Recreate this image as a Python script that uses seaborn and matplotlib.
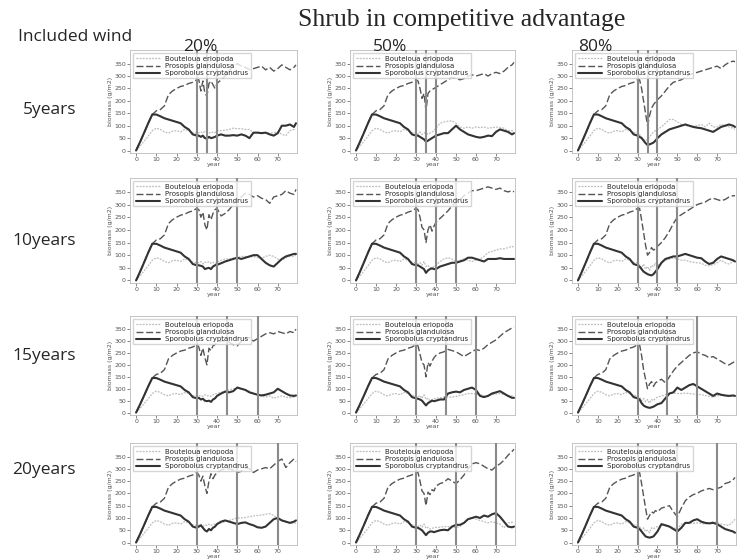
import numpy as np
import pandas as pd
import matplotlib
matplotlib.use("Agg")
import matplotlib.pyplot as plt
import seaborn as sns

# years sampled from the pictures
years_base = list(range(0, 31, 2))
years_tail = list(range(31, 41)) + list(range(42, 79, 2)) + [79]
years = years_base + years_tail

# shared history before the first wind event (year 0-30)
bout_base = [0, 18, 38, 58, 80, 90, 85, 75, 70, 78, 80, 75, 85, 80, 72, 70]
pros_base = [0, 35, 72, 110, 145, 160, 165, 180, 225, 240, 250, 258, 262, 270, 275, 285]
spor_base = [0, 35, 72, 110, 145, 145, 138, 130, 125, 120, 115, 110, 95, 85, 65, 60]

# 5 years
bout_5y_20 = [72, 75, 70, 78, 75, 72, 70, 75, 72, 80, 80, 82, 85, 90, 88, 88, 85, 85, 70, 72, 70, 72, 70, 72, 75, 65, 60, 80, 85, 85]
pros_5y_20 = [285, 240, 280, 230, 220, 270, 280, 265, 250, 270, 285, 300, 320, 340, 350, 340, 335, 325, 330, 335, 340, 325, 335, 320, 330, 345, 335, 325, 335, 345]
spor_5y_20 = [60, 55, 60, 50, 48, 55, 50, 52, 55, 60, 65, 60, 60, 62, 60, 65, 60, 50, 72, 72, 70, 72, 65, 60, 70, 100, 100, 105, 95, 110]
bout_5y_50 = [65, 75, 65, 70, 72, 65, 70, 75, 80, 90, 110, 115, 118, 120, 110, 95, 90, 95, 90, 95, 92, 95, 90, 92, 95, 92, 90, 80, 80, 78]
pros_5y_50 = [280, 250, 210, 230, 160, 230, 240, 245, 250, 255, 265, 275, 285, 295, 290, 285, 290, 300, 305, 300, 305, 310, 300, 310, 315, 310, 320, 335, 345, 355]
spor_5y_50 = [60, 55, 50, 45, 35, 40, 45, 50, 55, 60, 65, 70, 70, 85, 100, 85, 75, 65, 60, 55, 52, 55, 60, 58, 75, 85, 80, 75, 65, 70]
bout_5y_80 = [65, 55, 45, 40, 45, 55, 65, 75, 80, 85, 95, 110, 125, 125, 115, 105, 100, 100, 98, 100, 105, 95, 110, 95, 95, 105, 100, 95, 90, 85]
pros_5y_80 = [285, 250, 200, 150, 100, 140, 170, 185, 195, 205, 220, 240, 260, 275, 280, 285, 295, 305, 310, 315, 320, 325, 330, 335, 340, 330, 345, 355, 360, 358]
spor_5y_80 = [55, 50, 40, 30, 22, 25, 28, 32, 40, 50, 65, 75, 85, 90, 95, 100, 105, 100, 95, 92, 90, 85, 80, 75, 85, 95, 100, 105, 100, 95]

# 10 years
bout_10y_20 = [70, 75, 65, 72, 70, 75, 68, 72, 65, 72, 80, 85, 85, 88, 90, 95, 95, 92, 95, 90, 88, 95, 100, 95, 85, 80, 90, 95, 95, 100]
pros_10y_20 = [280, 250, 270, 220, 200, 260, 240, 265, 280, 285, 255, 265, 280, 300, 325, 330, 345, 340, 330, 335, 325, 320, 305, 330, 335, 340, 355, 345, 340, 360]
spor_10y_20 = [60, 58, 55, 45, 48, 50, 45, 55, 60, 62, 68, 75, 80, 85, 90, 85, 90, 95, 100, 100, 85, 70, 60, 55, 70, 85, 95, 100, 105, 105]
bout_10y_50 = [65, 70, 60, 75, 55, 60, 50, 50, 55, 60, 75, 85, 90, 85, 75, 80, 85, 80, 75, 80, 85, 95, 110, 115, 120, 125, 125, 130, 135, 130]
pros_10y_50 = [280, 250, 210, 200, 150, 200, 220, 195, 215, 230, 245, 260, 275, 295, 310, 320, 335, 345, 355, 355, 360, 365, 370, 365, 360, 365, 355, 350, 355, 350]
spor_10y_50 = [60, 55, 50, 45, 30, 40, 45, 48, 45, 45, 55, 60, 65, 70, 70, 75, 80, 90, 90, 85, 80, 75, 85, 85, 85, 88, 85, 85, 85, 85]
bout_10y_80 = [60, 50, 65, 45, 55, 40, 60, 55, 70, 60, 70, 80, 85, 88, 85, 80, 80, 75, 72, 70, 68, 60, 58, 62, 70, 80, 70, 65, 75, 75]
pros_10y_80 = [285, 240, 190, 140, 100, 110, 130, 120, 125, 135, 150, 170, 195, 225, 250, 260, 270, 280, 290, 300, 305, 310, 320, 325, 320, 315, 320, 330, 335, 335]
spor_10y_80 = [55, 45, 35, 30, 25, 22, 20, 25, 35, 45, 70, 85, 90, 95, 95, 100, 105, 100, 95, 90, 88, 75, 65, 70, 85, 95, 90, 85, 80, 75]

# 15 years
bout_15y_20 = [70, 72, 68, 75, 70, 72, 68, 75, 78, 80, 85, 90, 95, 100, 105, 100, 95, 90, 80, 75, 70, 65, 70, 60, 65, 70, 65, 62, 65, 68]
pros_15y_20 = [275, 240, 270, 230, 200, 270, 260, 280, 285, 295, 300, 300, 295, 285, 280, 300, 310, 315, 300, 310, 320, 330, 335, 330, 340, 335, 330, 340, 335, 350]
spor_15y_20 = [62, 55, 58, 50, 48, 50, 45, 55, 60, 70, 80, 88, 85, 90, 105, 100, 95, 85, 80, 75, 72, 75, 80, 85, 100, 90, 80, 72, 70, 72]
bout_15y_50 = [65, 72, 60, 75, 55, 60, 50, 55, 58, 60, 62, 65, 65, 65, 68, 72, 75, 80, 80, 78, 75, 70, 72, 75, 78, 80, 75, 72, 70, 70]
pros_15y_50 = [280, 245, 210, 200, 150, 210, 195, 215, 230, 240, 250, 255, 265, 260, 255, 245, 235, 245, 255, 265, 260, 270, 285, 295, 305, 320, 335, 345, 355, 360]
spor_15y_50 = [58, 55, 50, 40, 30, 40, 45, 50, 48, 50, 55, 55, 80, 85, 88, 85, 95, 100, 105, 95, 70, 65, 70, 80, 85, 90, 80, 70, 62, 62]
bout_15y_80 = [65, 50, 60, 45, 55, 40, 55, 50, 60, 65, 70, 75, 80, 82, 80, 80, 82, 80, 78, 78, 75, 72, 68, 65, 70, 72, 70, 68, 70, 72]
pros_15y_80 = [285, 240, 180, 140, 100, 120, 130, 110, 125, 130, 140, 125, 150, 175, 195, 210, 225, 240, 250, 255, 245, 240, 230, 235, 225, 215, 205, 200, 210, 215]
spor_15y_80 = [55, 40, 30, 25, 22, 20, 22, 25, 30, 35, 40, 60, 80, 85, 105, 95, 105, 115, 120, 110, 100, 90, 80, 70, 80, 75, 72, 70, 72, 70]

# 20 years
bout_20y_20 = [70, 75, 65, 72, 70, 75, 70, 72, 75, 78, 80, 85, 90, 95, 100, 100, 102, 105, 108, 110, 112, 115, 118, 110, 95, 90, 85, 80, 78, 80]
pros_20y_20 = [275, 250, 270, 230, 200, 250, 280, 260, 275, 285, 295, 300, 300, 295, 285, 290, 305, 300, 285, 295, 300, 305, 300, 315, 330, 340, 305, 325, 340, 330]
spor_20y_20 = [65, 70, 60, 50, 45, 55, 50, 60, 65, 75, 85, 90, 85, 80, 75, 80, 82, 75, 70, 62, 60, 65, 80, 95, 100, 90, 85, 80, 85, 90]
bout_20y_50 = [65, 72, 62, 75, 58, 62, 55, 58, 60, 62, 62, 65, 65, 60, 62, 65, 80, 95, 100, 95, 90, 85, 80, 85, 80, 75, 60, 80, 82, 82]
pros_20y_50 = [285, 250, 210, 200, 150, 205, 195, 215, 210, 230, 240, 245, 260, 250, 240, 255, 275, 300, 320, 325, 320, 310, 300, 295, 310, 320, 335, 355, 370, 380]
spor_20y_50 = [60, 55, 50, 40, 30, 40, 45, 45, 42, 45, 50, 52, 50, 65, 72, 72, 80, 95, 100, 105, 100, 110, 105, 115, 120, 105, 85, 65, 62, 65]
bout_20y_80 = [65, 50, 60, 45, 50, 40, 60, 55, 62, 65, 70, 72, 65, 60, 55, 75, 80, 80, 78, 80, 78, 75, 80, 85, 80, 75, 72, 70, 85, 95]
pros_20y_80 = [285, 240, 190, 140, 95, 110, 125, 120, 130, 125, 140, 145, 150, 125, 105, 140, 170, 185, 195, 200, 210, 215, 220, 215, 220, 225, 240, 245, 255, 265]
spor_20y_80 = [55, 45, 35, 25, 22, 20, 22, 25, 35, 45, 75, 70, 65, 55, 45, 60, 80, 80, 90, 95, 85, 80, 78, 80, 75, 65, 55, 50, 45, 40]

row_labels = ["5years", "10years", "15years", "20years"]
col_labels = ["20%", "50%", "80%"]
wind_years = [[30, 35, 40], [30, 40, 50], [30, 45, 60], [30, 50, 70]]
species = ["Bouteloua eriopoda", "Prosopis glandulosa", "Sporobolus cryptandrus"]

panels = [
    [(bout_5y_20, pros_5y_20, spor_5y_20), (bout_5y_50, pros_5y_50, spor_5y_50), (bout_5y_80, pros_5y_80, spor_5y_80)],
    [(bout_10y_20, pros_10y_20, spor_10y_20), (bout_10y_50, pros_10y_50, spor_10y_50), (bout_10y_80, pros_10y_80, spor_10y_80)],
    [(bout_15y_20, pros_15y_20, spor_15y_20), (bout_15y_50, pros_15y_50, spor_15y_50), (bout_15y_80, pros_15y_80, spor_15y_80)],
    [(bout_20y_20, pros_20y_20, spor_20y_20), (bout_20y_50, pros_20y_50, spor_20y_50), (bout_20y_80, pros_20y_80, spor_20y_80)],
]
bases = (bout_base, pros_base, spor_base)

sns.set_style("ticks")
plt.rcParams["font.family"] = ["DejaVu Sans"]

W, H = 746, 559
fig = plt.figure(figsize=(W / 100, H / 100), dpi=100)

col_px = [(130, 297), (350, 515), (572, 736)]
row_px = [(50, 153), (178, 283), (316, 415), (443, 545)]

styles = [
    dict(color="#bdbdbd", linestyle=(0, (1.5, 1)), linewidth=0.9),
    dict(color="#555555", linestyle=(0, (5, 2)), linewidth=1.0),
    dict(color="#333333", linestyle="-", linewidth=1.5),
]

for r in range(4):
    for c in range(3):
        x0, x1 = col_px[c]
        y0, y1 = row_px[r]
        ax = fig.add_axes([x0 / W, 1 - y1 / H, (x1 - x0) / W, (y1 - y0) / H])
        for k in range(3):
            vals = bases[k] + panels[r][c][k]
            sns.lineplot(x=years, y=vals, ax=ax, label=species[k], **styles[k])
        for wy in wind_years[r]:
            ax.axvline(wy, color="#8a8a8a", linewidth=1.5, zorder=3)
        ax.set_xlim(-3, 79.5)
        ax.set_ylim(-10, 405)
        ax.set_xticks(range(0, 71, 10))
        ax.set_yticks(range(0, 351, 50))
        ax.tick_params(labelsize=4.5, length=2, width=0.5, pad=1, colors="#555555")
        ax.set_xlabel("year", fontsize=4.5, labelpad=0, color="#555555")
        ax.set_ylabel("biomass (g/m2)", fontsize=4.5, labelpad=1, color="#555555")
        for s in ax.spines.values():
            s.set_color("#bbbbbb")
            s.set_linewidth(0.6)
        ax.legend(loc="upper left", fontsize=5, frameon=True, borderpad=0.3,
                  labelspacing=0.2, handlelength=3.5, edgecolor="#cccccc", fancybox=False)

fig.text(462 / W, 1 - 20 / H, "Shrub in competitive advantage", ha="center", va="center",
         fontsize=18.5, family="Liberation Serif")
fig.text(18 / W, 1 - 37 / H, "Included wind", ha="left", va="center", fontsize=12.5, family="Open Sans")
for c, lab in enumerate(col_labels):
    fig.text([200, 390, 595][c] / W, 1 - 47 / H, lab, ha="center", va="center", fontsize=12.5, family="Open Sans")
for r, lab in enumerate(row_labels):
    fig.text(76 / W, 1 - [110, 241, 356, 470][r] / H, lab, ha="right", va="center", fontsize=12.5, family="Open Sans")

fig.savefig("out.png", dpi=100)
